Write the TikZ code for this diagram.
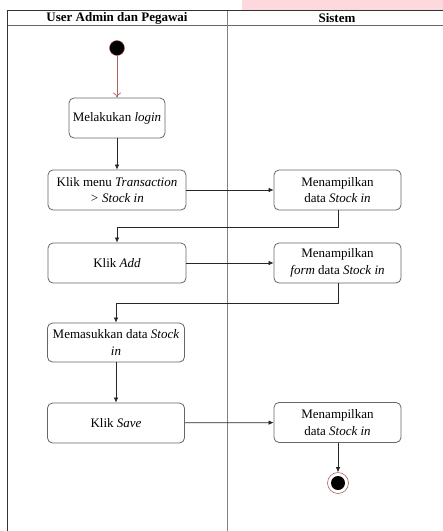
\documentclass[tikz,border=0pt]{standalone}
\usepackage{fontspec}
\setmainfont{Liberation Serif}
\usetikzlibrary{shapes.geometric, arrows, arrows.meta, positioning}
\definecolor{lanepink}{HTML}{FDD8DC}
\definecolor{startred}{HTML}{B0605C}

\begin{document}
\begin{tikzpicture}[x=1pt, y=-1pt,
    aksi/.style={draw=black!60, rounded corners=5pt, line width=0.8pt, align=center,
        minimum height=40pt, inner sep=2pt, font=\fontsize{13}{16.5}\selectfont},
    alur/.style={-{Latex[length=5pt, width=4.5pt]}, line width=0.7pt, black!85},
    judul/.style={font=\fontsize{13}{16}\selectfont\bfseries}]
    \useasboundingbox (0,0) rectangle (443,531);
    % swimlanes
    \fill[lanepink] (242,0) rectangle (443,9.5);
    \draw[line width=1pt, black!80] (7.5,531) -- (7.5,10.5) -- (443,10.5);
    \draw[line width=0.8pt, black!60] (7.5,25.5) -- (443,25.5);
    \draw[line width=0.9pt, black!50] (227,10.5) -- (227,531);
    \node[judul] (lane1) at (117,18) {User Admin dan Pegawai};
    \node[judul] (lane2) at (337,18) {Sistem};

    % activities
    \node[circle, fill=black, draw=startred, minimum size=15pt, inner sep=0pt] (mulai) at (117,48) {};
    \node[aksi, minimum width=96pt] (login) at (117,118) {Melakukan \textit{login}};
    \node[aksi, minimum width=138pt] (menu) at (117,190) {Klik menu \textit{Transaction}\\\textit{> Stock in}};
    \node[aksi, minimum width=127pt] (tampil1) at (337.5,190) {Menampilkan\\data \textit{Stock in}};
    \node[aksi, minimum width=138pt] (add) at (117,263) {Klik \textit{Add}};
    \node[aksi, minimum width=127pt] (tampil2) at (337.5,263) {Menampilkan\\\textit{form} data \textit{Stock in}};
    \node[aksi, minimum width=137pt, minimum height=39pt] (masuk) at (116,342.5) {Memasukkan data \textit{Stock}\\\textit{in}};
    \node[aksi, minimum width=137pt] (save) at (116,423) {Klik \textit{Save}};
    \node[aksi, minimum width=127pt] (tampil3) at (337.5,422.5) {Menampilkan\\data \textit{Stock in}};
    \node[circle, fill=white, draw=startred, line width=0.6pt, minimum size=21pt, inner sep=0pt] (akhir) at (338,483) {};
    \node[circle, fill=black, minimum size=14pt, inner sep=0pt] (akhirdalam) at (akhir) {};

    % bend points
    \coordinate (belok1) at (338,227);
    \coordinate (belok2) at (338,303);

    % flow
    \draw[-{To[length=5pt, width=8pt]}, startred, line width=0.7pt] (mulai) -- (login);
    \draw[alur] (login) -- (login |- menu.north);
    \draw[alur] (menu) -- (tampil1);
    \draw[alur] (tampil1.south -| belok1) -- (belok1) -| (add.north);
    \draw[alur] (add) -- (tampil2);
    \draw[alur] (tampil2.south -| belok2) -- (belok2) -| (masuk.north);
    \draw[alur] (masuk) -- (save);
    \draw[alur] (save) -- (tampil3);
    \draw[alur] (tampil3.south -| akhir) -- (akhir);
\end{tikzpicture}
\end{document}
